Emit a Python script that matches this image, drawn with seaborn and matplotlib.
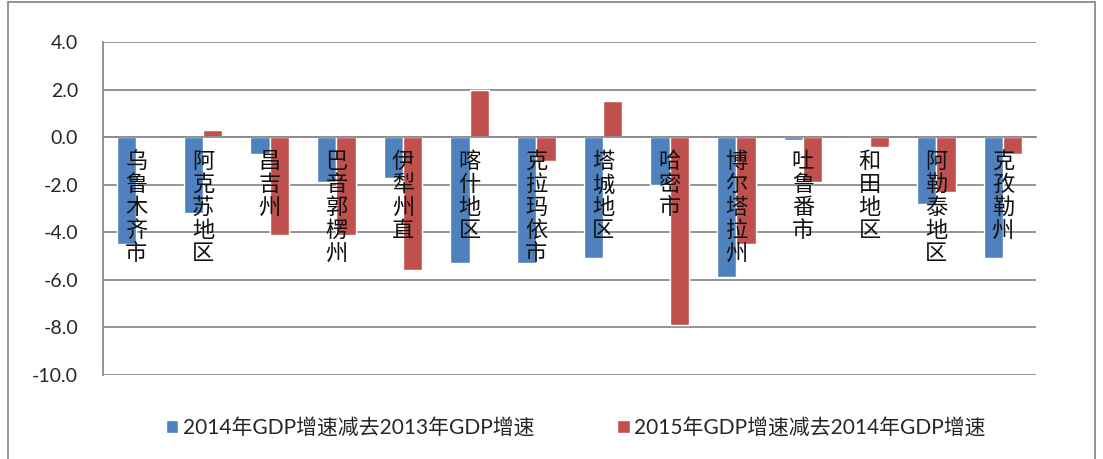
import numpy as np
import pandas as pd
import seaborn as sns
import matplotlib.pyplot as plt
from matplotlib.patches import Rectangle
from matplotlib.ticker import FormatStrFormatter

# data
regions = ["乌鲁木齐市", "阿克苏地区", "昌吉州", "巴音郭楞州", "伊犁州直", "喀什地区", "克拉玛依市",
           "塔城地区", "哈密市", "博尔塔拉州", "吐鲁番市", "和田地区", "阿勒泰地区", "克孜勒州"]
series_names = ["2014年GDP增速减去2013年GDP增速", "2015年GDP增速减去2014年GDP增速"]
diff_2014 = [-4.5, -3.2, -0.7, -1.9, -1.7, -5.3, -5.3, -5.1, -2.0, -5.9, -0.1, 0.0, -2.8, -5.1]
diff_2015 = [0.0, 0.3, -4.1, -4.1, -5.6, 2.0, -1.0, 1.5, -7.9, -4.5, -1.9, -0.4, -2.3, -0.7]
colors = ["#4F81BD", "#C0504D"]

df = pd.DataFrame({
    "region": regions * 2,
    "series": [series_names[0]] * len(regions) + [series_names[1]] * len(regions),
    "value": diff_2014 + diff_2015,
})

sns.set_style("white")
plt.rcParams["font.family"] = ["Lato", "Noto Sans CJK SC", "DejaVu Sans"]

fig = plt.figure(figsize=(11.03, 4.59), dpi=100)
ax = fig.add_axes([0.0935, 0.183, 0.846, 0.7255])

sns.barplot(data=df, x="region", y="value", hue="series", hue_order=series_names,
            order=regions, palette=colors, width=0.58, saturation=1, ax=ax, legend=True)

ax.set_ylim(-10, 4)
ax.set_xlim(-0.5, len(regions) - 0.5)
ax.set_yticks(np.arange(-10, 4.1, 2))
ax.yaxis.set_major_formatter(FormatStrFormatter("%.1f"))
ax.set_xlabel("")
ax.set_ylabel("")

# gridlines and axes in Excel gray
grid_c = "#8C8C8C"
ax.yaxis.grid(True, color=grid_c, linewidth=1.3)
ax.set_axisbelow(True)
for side in ["top", "right"]:
    ax.spines[side].set_visible(False)
ax.spines["left"].set_color(grid_c)
ax.spines["left"].set_linewidth(1.3)
ax.spines["bottom"].set_position(("data", 0))
ax.spines["bottom"].set_color(grid_c)
ax.spines["bottom"].set_linewidth(1.3)

# ticks between categories hanging from the zero line
centers = ax.get_xticks()
ax.set_xticks(np.arange(-0.5, len(regions), 1), minor=True)
ax.tick_params(axis="x", which="major", length=0, labelbottom=False)
ax.tick_params(axis="x", which="minor", length=6, width=1.3, color=grid_c, direction="out")
ax.tick_params(axis="y", length=5, width=1.3, color=grid_c, direction="out",
               labelsize=14, pad=13)

# vertical category labels, stacked characters
for x, name in zip(centers, regions):
    ax.text(x, -0.55, "\n".join(name), ha="center", va="top", fontsize=16,
            linespacing=1.0, family=["Noto Sans CJK SC"], color="#111111")

ax.legend(loc="upper center", bbox_to_anchor=(0.522, 0.13), bbox_transform=fig.transFigure,
          ncol=2, frameon=False, fontsize=15, handlelength=0.6, handleheight=0.6,
          handletextpad=0.2, columnspacing=4.0)

# outer chart border
fig.patches.append(Rectangle((0.0075, -0.05), 0.985, 1.045, transform=fig.transFigure,
                             fill=False, edgecolor=grid_c, linewidth=1.3))

fig.savefig("out.png", dpi=100)
